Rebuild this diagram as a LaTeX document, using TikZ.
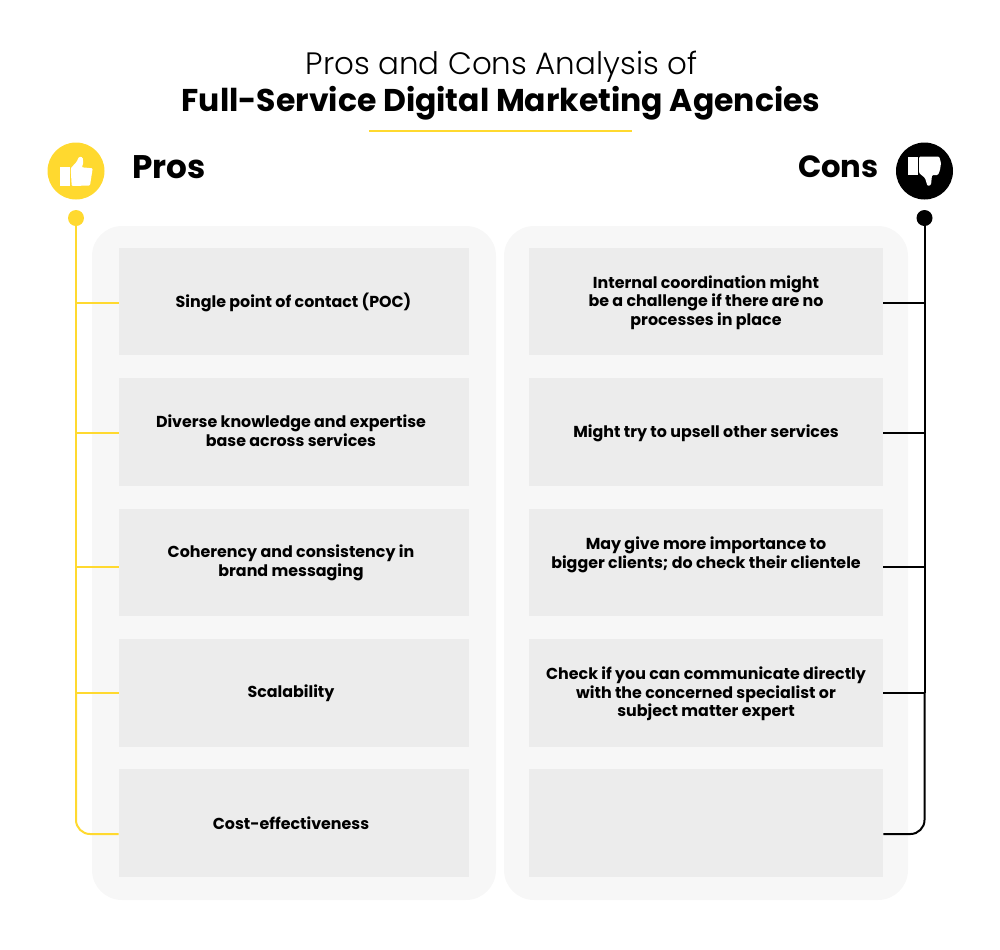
\documentclass[tikz,border=0pt]{standalone}
\usepackage{fontspec}
\setmainfont{Poppins}
\newfontfamily\lightfont{Poppins Light}
\usepackage{tikz}
\definecolor{prosyellow}{HTML}{FFD92F}
\definecolor{panelgrey}{HTML}{F7F7F7}
\definecolor{cellgrey}{HTML}{ECECEC}
\tikzset{panel/.style={fill=panelgrey, rounded corners=22.5pt, minimum width=303pt, minimum height=505.5pt}}
\tikzset{celltext/.style={align=center, inner sep=0pt, font=\bfseries\fontsize{11.9pt}{14pt}\selectfont}}
\tikzset{cell/.style={fill=cellgrey, minimum height=80.6pt, inner sep=0pt}}
\tikzset{proscell/.style={cell, minimum width=262.5pt}}
\tikzset{conscell/.style={cell, minimum width=265.5pt}}
\tikzset{prosline/.style={draw=prosyellow, line width=1.5pt}}
\tikzset{consline/.style={draw=black, line width=1.5pt}}
\begin{document}
\begin{tikzpicture}[x=0.75pt, y=-0.75pt]
	\useasboundingbox (0,0) rectangle (1000,950);

	% Title
	\node (titletop) at (501.5,67) {\lightfont\fontsize{23.2pt}{28pt}\selectfont Pros and Cons Analysis of};
	\node (titlebottom) at (501,103) {\fontsize{23.6pt}{28pt}\selectfont\bfseries Full-Service Digital Marketing Agencies};
	\coordinate (ruleleft) at (369,131);	\coordinate (ruleright) at (632,131);
	\draw[prosyellow, line width=1.5pt] (ruleleft) -- (ruleright);

	% Panels
	\node[panel] (prospanel) at (294,563) {};
	\node[panel] (conspanel) at (706,563) {};

	% Cells
	\node[proscell] (r1c1) at (294,301.5) {};	\node[conscell] (r1c2) at (706,301.5) {};
	\node[proscell] (r2c1) at (294,432) {};		\node[conscell] (r2c2) at (706,432) {};
	\node[proscell] (r3c1) at (294,562.5) {};	\node[conscell] (r3c2) at (706,562.5) {};
	\node[proscell] (r4c1) at (294,693) {};		\node[conscell] (r4c2) at (706,693) {};
	\node[proscell] (r5c1) at (294,823) {};		\node[conscell] (r5c2) at (706,823) {};

	% Left column texts
	\node[celltext] (t1c1) at (293.5,302.5) {Single point of contact (POC)};
	\node[celltext] (t2c1) at (291,431) {Diverse knowledge and expertise\\base across services};
	\node[celltext] (t3c1) at (291,563) {Coherency and consistency in\\brand messaging};
	\node[celltext] (t4c1) at (291,693.5) {Scalability};
	\node[celltext] (t5c1) at (291,823) {Cost-effectiveness};

	% Right column texts
	\node[celltext] (t1c2) at (706,302.5) {Internal coordination might\\be a challenge if there are no\\processes in place};
	\node[celltext] (t2c2) at (706,433) {Might try to upsell other services};
	\node[celltext] (t3c2) at (706,554.5) {May give more importance to\\bigger clients; do check their clientele};
	\node[celltext] (t4c2) at (706,694) {Check if you can communicate directly\\with the concerned specialist or\\subject matter expert};

	% Headings
	\node[anchor=west, inner sep=0pt] (proslabel) at (132,167) {\fontsize{24.5pt}{27pt}\selectfont\bfseries Pros};
	\node[anchor=east, inner sep=0pt] (conslabel) at (879,167) {\fontsize{23pt}{27pt}\selectfont\bfseries Cons};

	% Badges
	\node[circle, fill=prosyellow, minimum size=42.75pt, inner sep=0pt] (prosbadge) at (76,171) {};
	\node[circle, fill=black, minimum size=42.75pt, inner sep=0pt] (consbadge) at (924.5,171) {};
	\fill[white] (60,167) rectangle (69.5,186);
	\fill[white, rounded corners=0.8pt] (70.7,168.3) -- (76.7,161.7) -- (79,156.7) -- (82.7,157.3) -- (83.3,163.3) -- (81.7,167.3) -- (92.7,168.3) -- (90,185.5) -- (71.7,186) -- cycle;
	\fill[white] (908.3,156.7) rectangle (917.7,175);
	\fill[white, rounded corners=0.8pt] (919,156.7) -- (939.3,156.7) -- (941,163) -- (940,170) -- (938,175) -- (932,175) -- (931,185) -- (927.5,186) -- (925,178) -- (919,173) -- cycle;

	% Dots
	\node[circle, fill=prosyellow, minimum size=12pt, inner sep=0pt] (prosdot) at (76,218) {};
	\node[circle, fill=black, minimum size=12pt, inner sep=0pt] (consdot) at (924.5,218) {};

	% Left rail
	\coordinate (prosj1) at (76,303);
	\coordinate (prosj2) at (76,433);
	\coordinate (prosj3) at (76,567);
	\coordinate (prosj4) at (76,693);
	\coordinate (prosj5) at (76,834);
	\draw[prosline] (prosdot) -- (prosj4);
	\draw[prosline] (prosj1) -- (prosj1 -| r1c1.west);
	\draw[prosline] (prosj2) -- (prosj2 -| r2c1.west);
	\draw[prosline] (prosj3) -- (prosj3 -| r3c1.west);
	\draw[prosline] (prosj4) -- (prosj4 -| r4c1.west);
	\draw[prosline, rounded corners=10.5pt] (prosj4) -- (prosj5) -- (prosj5 -| r5c1.west);

	% Right rail
	\coordinate (consj1) at (924.5,303);
	\coordinate (consj2) at (924.5,433);
	\coordinate (consj3) at (924.5,567);
	\coordinate (consj4) at (924.5,693);
	\coordinate (consj5) at (924.5,834);
	\draw[consline] (consdot) -- (consj4);
	\draw[consline] (consj1) -- (consj1 -| r1c2.east);
	\draw[consline] (consj2) -- (consj2 -| r2c2.east);
	\draw[consline] (consj3) -- (consj3 -| r3c2.east);
	\draw[consline] (consj4) -- (consj4 -| r4c2.east);
	\draw[consline, rounded corners=10.5pt] (consj4) -- (consj5) -- (consj5 -| r5c2.east);
\end{tikzpicture}
\end{document}
